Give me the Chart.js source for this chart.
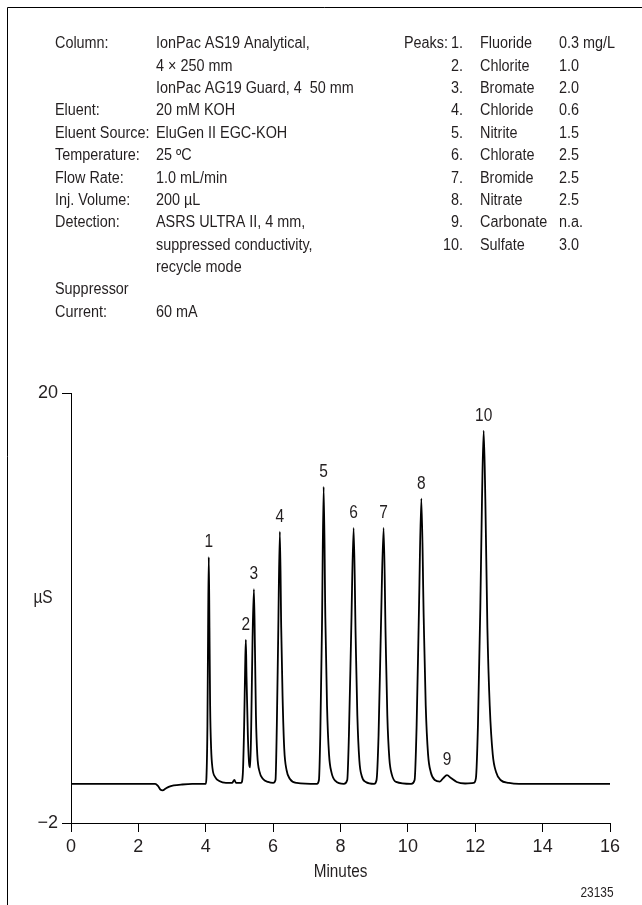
<!DOCTYPE html>
<html>
<head>
<meta charset="utf-8">
<script src="https://cdn.jsdelivr.net/npm/chart.js@4.4.1/dist/chart.umd.min.js"></script>
<style>
  html, body { margin: 0; padding: 0; background: #fff; }
</style>
</head>
<body>
<canvas id="chrom" width="642" height="905"></canvas>
<script>
const FONT = "'Liberation Sans', Arial, sans-serif";
const INK = '#231f20';

// method conditions, left block
const conditionLabels = ['Column:', '', '', 'Eluent:', 'Eluent Source:', 'Temperature:', 'Flow Rate:',
    'Inj. Volume:', 'Detection:', '', '', 'Suppressor', 'Current:'];
const conditionValues = ['IonPac AS19 Analytical,', '4 \u00d7 250 mm', 'IonPac AG19 Guard, 4  50 mm',
    '20 mM KOH', 'EluGen II EGC-KOH', '25 \u00baC', '1.0 mL/min', '200 \u00b5L', 'ASRS ULTRA II, 4 mm,',
    'suppressed conductivity,', 'recycle mode', '', '60 mA'];

// peak table, right block
const peakNumbers = ['1.', '2.', '3.', '4.', '5.', '6.', '7.', '8.', '9.', '10.'];
const peakNames = ['Fluoride', 'Chlorite', 'Bromate', 'Chloride', 'Nitrite', 'Chlorate', 'Bromide',
    'Nitrate', 'Carbonate', 'Sulfate'];
const peakConc = ['0.3 mg/L', '1.0', '2.0', '0.6', '1.5', '2.5', '2.5', '2.5', 'n.a.', '3.0'];

// peak apex positions (min, µS) used for the numbers above the peaks
const peakTimes = [4.09, 5.19, 5.43, 6.20, 7.50, 8.39, 9.28, 10.40, 11.16, 12.25];
const peakHeights = [11.6, 7.37, 9.96, 12.9, 15.2, 13.1, 13.1, 14.6, 0.45, 18.07];

// axis ticks
const xTicks = [0, 2, 4, 6, 8, 10, 12, 14, 16];
const yTicks = [-2, 20];

// chromatogram trace
const traceTime = [
    0, 2.5, 2.58, 2.66, 2.72, 2.8, 2.9, 3.05, 3.3, 3.6, 4.0,
    4.02, 4.05, 4.07, 4.09, 4.11, 4.13, 4.16, 4.2, 4.28, 4.4, 4.6, 4.78, 4.85, 4.9, 5.05,
    5.1, 5.14, 5.17, 5.19, 5.21, 5.25, 5.29, 5.32,
    5.35, 5.39, 5.43, 5.46, 5.49, 5.53, 5.6, 5.7, 5.85, 6.0,
    6.07, 6.11, 6.15, 6.2, 6.24, 6.28, 6.33, 6.4, 6.5, 6.7, 7.3,
    7.36, 7.4, 7.45, 7.5, 7.55, 7.6, 7.66, 7.73, 7.85, 8.1,
    8.2, 8.25, 8.32, 8.39, 8.45, 8.5, 8.56, 8.63, 8.75, 9.0,
    9.07, 9.13, 9.2, 9.28, 9.34, 9.39, 9.45, 9.52, 9.65, 10.1,
    10.2, 10.26, 10.33, 10.4, 10.47, 10.53, 10.6, 10.68, 10.8, 10.95,
    11.05, 11.16, 11.28, 11.45, 11.7, 11.95,
    12.02, 12.08, 12.15, 12.2, 12.25, 12.3, 12.36, 12.43, 12.52, 12.62, 12.75, 13.0, 13.3, 16
];
const traceValue = [
    0, 0, -0.1, -0.3, -0.33, -0.25, -0.15, -0.08, -0.03, 0, 0,
    0.3, 3.0, 8.0, 11.6, 8.0, 4.0, 1.8, 0.8, 0.35, 0.15, 0.05, 0.05, 0.2, 0.05, 0.05,
    0.5, 3.0, 6.0, 7.37, 5.5, 2.5, 1.0, 0.85,
    3.0, 7.5, 9.96, 7.0, 3.5, 1.5, 0.6, 0.25, 0.1, 0.05,
    0.2, 3.0, 7.5, 12.9, 8.0, 4.5, 1.8, 0.7, 0.25, 0.05, 0,
    0.2, 2.5, 8.0, 15.2, 8.5, 4.0, 1.5, 0.6, 0.15, 0,
    0.2, 2.5, 8.0, 13.1, 7.5, 3.5, 1.2, 0.4, 0.1, 0,
    0.2, 2.5, 8.0, 13.1, 7.5, 3.5, 1.3, 0.5, 0.1, 0,
    0.2, 3.0, 9.0, 14.6, 8.5, 4.0, 1.5, 0.6, 0.2, 0.12,
    0.3, 0.45, 0.3, 0.1, 0.02, 0.05,
    0.3, 3.0, 9.0, 14.5, 18.07, 14.5, 8.0, 4.0, 1.5, 0.6, 0.2, 0.05, 0, 0
];

// condensed-looking text: squeeze horizontally
function squeezeText(ctx, text, x, y, align, sx) {
    const w = ctx.measureText(text).width * sx;
    const x0 = align === 'left' ? x : align === 'right' ? x - w : x - w / 2;
    ctx.save();
    ctx.translate(x0, y);
    ctx.scale(sx, 1);
    ctx.textAlign = 'left';
    ctx.fillText(text, 0, 0);
    ctx.restore();
}

const textPlugin = {
    id: 'textPlugin',
    afterDraw(chart) {
        const ctx = chart.ctx;
        const xs = chart.scales.x;
        const ys = chart.scales.y;
        ctx.save();

        // frame (left and top only)
        ctx.strokeStyle = '#000';
        ctx.lineWidth = 1;
        ctx.beginPath();
        ctx.moveTo(7.5, 905);
        ctx.lineTo(7.5, 7.5);
        ctx.lineTo(642, 7.5);
        ctx.stroke();

        ctx.fillStyle = INK;
        ctx.textBaseline = 'middle';

        // header blocks
        ctx.font = '16px ' + FONT;
        const rowH = 22.35;
        const top = 44;
        const sx = 0.9;
        conditionLabels.forEach((t, i) => squeezeText(ctx, t, 55, top + i * rowH, 'left', sx));
        conditionValues.forEach((t, i) => squeezeText(ctx, t, 156, top + i * rowH, 'left', sx));
        squeezeText(ctx, 'Peaks:', 404, top, 'left', sx);
        peakNumbers.forEach((t, i) => squeezeText(ctx, t, 463, top + i * rowH, 'right', sx));
        peakNames.forEach((t, i) => squeezeText(ctx, t, 480, top + i * rowH, 'left', sx));
        peakConc.forEach((t, i) => squeezeText(ctx, t, 559, top + i * rowH, 'left', sx));

        // peak numbers above the apexes
        ctx.font = '18px ' + FONT;
        peakTimes.forEach((t, i) => {
            squeezeText(ctx, String(i + 1), xs.getPixelForValue(t),
                ys.getPixelForValue(peakHeights[i]) - 15, 'center', 0.86);
        });

        // axis titles and figure number
        squeezeText(ctx, '\u00b5S', 43, 598, 'center', 0.86);
        squeezeText(ctx, 'Minutes', (xs.left + xs.right) / 2, 872, 'center', 0.85);
        ctx.font = '14px ' + FONT;
        squeezeText(ctx, '23135', 597, 893, 'center', 0.85);
        ctx.restore();
    }
};

new Chart(document.getElementById('chrom').getContext('2d'), {
    type: 'line',
    data: {
        datasets: [{
            data: traceTime.map((t, i) => ({ x: t, y: traceValue[i] })),
            borderColor: '#000',
            borderWidth: 1.8,
            pointRadius: 0,
            fill: false,
            cubicInterpolationMode: 'monotone'
        }]
    },
    options: {
        responsive: false,
        animation: false,
        devicePixelRatio: 1,
        layout: { padding: { left: 5, right: 32, top: 393, bottom: 42 } },
        plugins: { legend: { display: false }, tooltip: { enabled: false } },
        scales: {
            x: {
                type: 'linear',
                min: 0,
                max: 16,
                afterBuildTicks: s => { s.ticks = xTicks.map(v => ({ value: v })); },
                afterFit: s => { s.height = 40; },
                ticks: { color: INK, font: { family: FONT, size: 18 }, padding: 4, maxRotation: 0 },
                grid: { drawOnChartArea: false, tickLength: 9, color: '#000' },
                border: { color: '#000', width: 1 }
            },
            y: {
                type: 'linear',
                min: -2,
                max: 20,
                afterBuildTicks: s => { s.ticks = yTicks.map(v => ({ value: v })); },
                afterFit: s => { s.width = 66; },
                ticks: {
                    color: INK,
                    font: { family: FONT, size: 18 },
                    padding: 4,
                    callback: v => v < 0 ? '\u2212' + Math.abs(v) : String(v)
                },
                grid: { drawOnChartArea: false, tickLength: 9, color: '#000' },
                border: { color: '#000', width: 1 }
            }
        }
    },
    plugins: [textPlugin]
});
</script>
</body>
</html>
